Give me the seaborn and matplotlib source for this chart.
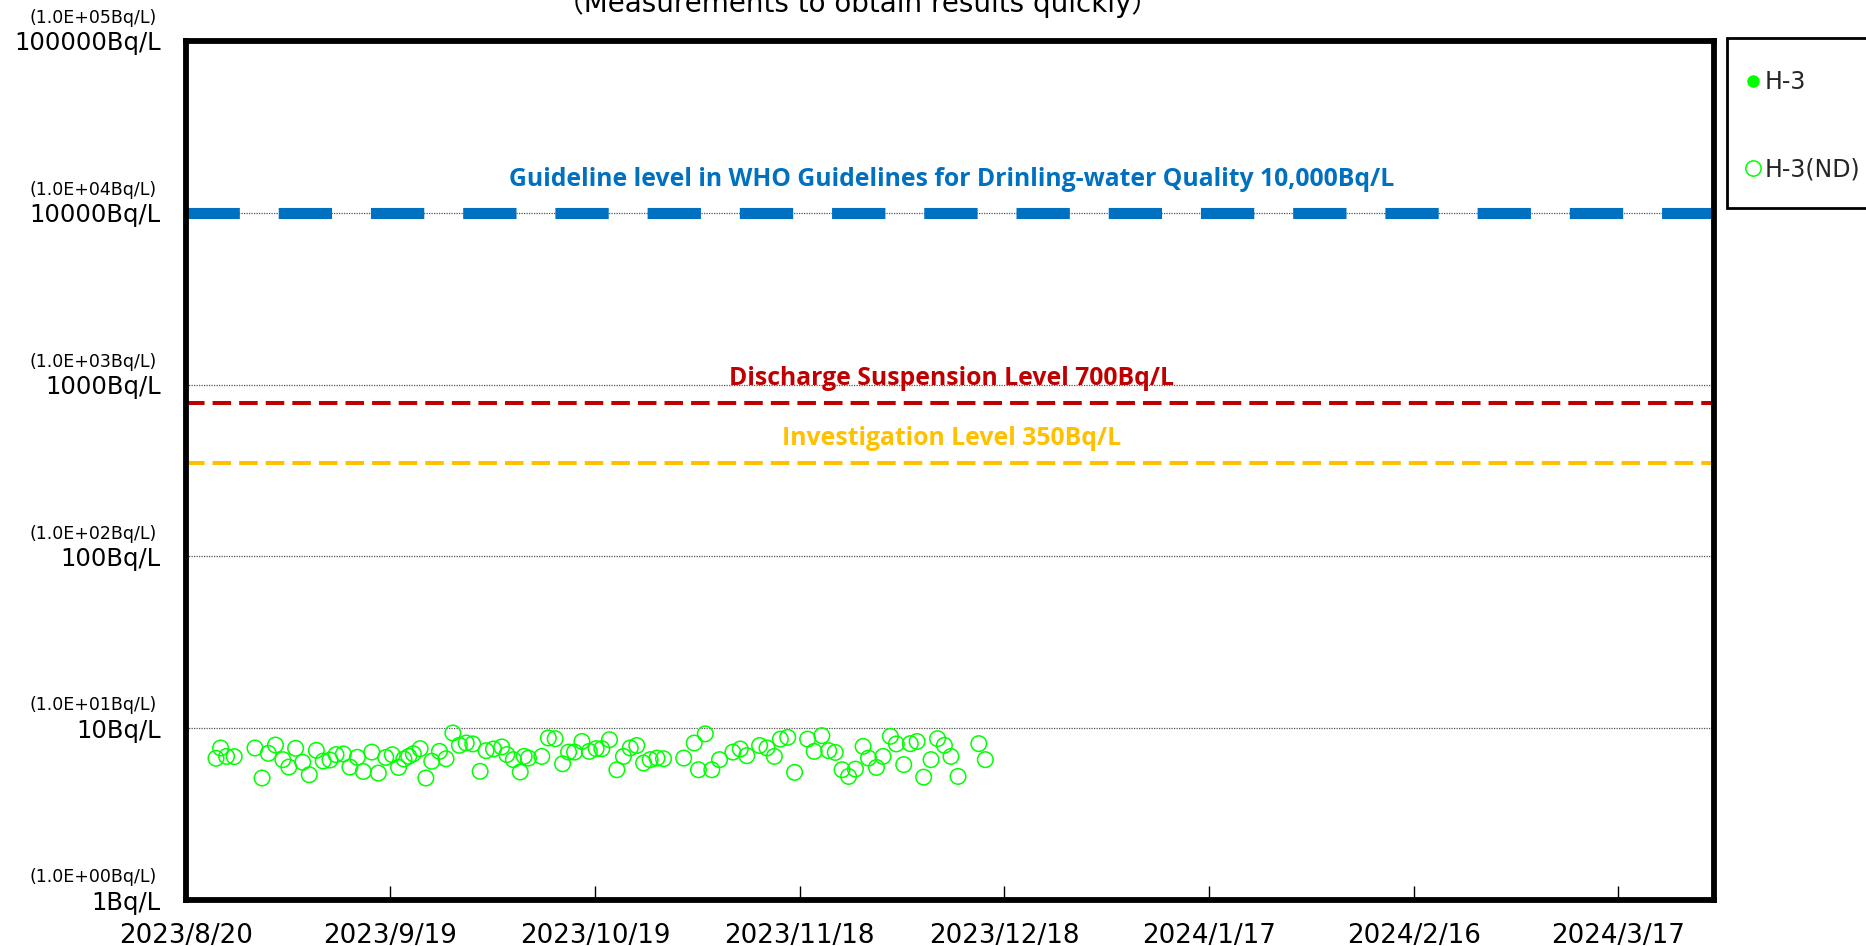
import matplotlib
matplotlib.use("Agg")
import matplotlib.pyplot as plt
from matplotlib.lines import Line2D
from matplotlib.patches import Rectangle
import numpy as np
import pandas as pd
import seaborn as sns

# ---------------- data ----------------
sample_times = [
    "2023-08-24 11:00", "2023-08-25 03:00", "2023-08-26 00:00", "2023-08-27 03:00",
    "2023-08-30 04:00", "2023-08-31 05:00", "2023-09-01 03:00", "2023-09-02 04:00",
    "2023-09-03 06:00", "2023-09-04 03:00", "2023-09-05 03:00", "2023-09-06 04:00",
    "2023-09-07 03:00", "2023-09-08 04:00", "2023-09-09 04:00", "2023-09-10 04:00",
    "2023-09-11 01:00", "2023-09-12 03:00", "2023-09-13 02:00", "2023-09-14 04:00",
    "2023-09-15 01:00", "2023-09-16 07:00", "2023-09-17 06:00", "2023-09-18 08:00",
    "2023-09-19 07:00", "2023-09-20 05:00", "2023-09-21 00:00", "2023-09-21 17:00",
    "2023-09-22 09:00", "2023-09-23 09:00", "2023-09-24 05:00", "2023-09-25 02:00",
    "2023-09-26 05:00", "2023-09-27 04:00", "2023-09-28 04:00", "2023-09-29 03:00",
    "2023-09-30 03:00", "2023-10-01 02:00", "2023-10-02 04:00", "2023-10-03 01:00",
    "2023-10-04 03:00", "2023-10-05 08:00", "2023-10-06 02:00", "2023-10-07 01:00",
    "2023-10-08 01:00", "2023-10-08 15:00", "2023-10-09 06:00", "2023-10-11 05:00",
    "2023-10-12 04:00", "2023-10-13 04:00", "2023-10-14 06:00", "2023-10-15 03:00",
    "2023-10-16 00:00", "2023-10-17 02:00", "2023-10-18 04:00", "2023-10-19 04:00",
    "2023-10-20 00:00", "2023-10-21 03:00", "2023-10-22 05:00", "2023-10-23 04:00",
    "2023-10-24 04:00", "2023-10-25 03:00", "2023-10-26 03:00", "2023-10-27 02:00",
    "2023-10-28 02:00", "2023-10-29 01:00", "2023-11-01 00:00", "2023-11-02 13:00",
    "2023-11-03 04:00", "2023-11-04 04:00", "2023-11-05 03:00", "2023-11-06 06:00",
    "2023-11-08 05:00", "2023-11-09 07:00", "2023-11-10 06:00", "2023-11-12 03:00",
    "2023-11-13 05:00", "2023-11-14 07:00", "2023-11-15 04:00", "2023-11-16 06:00",
    "2023-11-17 06:00", "2023-11-19 04:00", "2023-11-20 03:00", "2023-11-21 06:00",
    "2023-11-22 06:00", "2023-11-23 05:00", "2023-11-24 05:00", "2023-11-25 04:00",
    "2023-11-26 04:00", "2023-11-27 07:00", "2023-11-28 02:00", "2023-11-29 06:00",
    "2023-11-30 05:00", "2023-12-01 07:00", "2023-12-02 04:00", "2023-12-03 06:00",
    "2023-12-04 05:00", "2023-12-05 05:00", "2023-12-06 04:00", "2023-12-07 06:00",
    "2023-12-08 05:00", "2023-12-09 05:00", "2023-12-10 04:00", "2023-12-11 05:00",
    "2023-12-14 06:00", "2023-12-15 05:00",
]
h3_nd_values = [
    6.68, 7.67, 6.85, 6.83,
    7.67, 5.13, 7.14, 7.98,
    6.56, 5.94, 7.64, 6.33,
    5.36, 7.43, 6.44, 6.53,
    7.02, 7.08, 5.94, 6.77,
    5.60, 7.26, 5.48, 6.76,
    7.01, 5.91, 6.62, 6.86,
    7.10, 7.60, 5.13, 6.42,
    7.33, 6.64, 9.38, 7.95,
    8.20, 8.10, 5.61, 7.40,
    7.57, 7.78, 7.02, 6.56,
    5.56, 6.86, 6.70, 6.85,
    8.77, 8.69, 6.21, 7.26,
    7.26, 8.37, 7.33, 7.60,
    7.60, 8.57, 5.73, 6.85,
    7.67, 7.93, 6.27, 6.56,
    6.70, 6.64, 6.70, 8.20,
    5.73, 9.27, 5.73, 6.56,
    7.26, 7.57, 6.92, 7.93,
    7.67, 6.85, 8.64, 8.85,
    5.53, 8.64, 7.33, 9.05,
    7.40, 7.23, 5.73, 5.24,
    5.78, 7.84, 6.70, 5.91,
    6.85, 8.97, 8.10, 6.14,
    8.13, 8.37, 5.19, 6.56,
    8.69, 7.95, 6.85, 5.24,
    8.13, 6.56,
]
series_labels = ["H-3", "H-3(ND)"]

tick_dates = ["2023-08-20", "2023-09-19", "2023-10-19", "2023-11-18",
              "2023-12-18", "2024-01-17", "2024-02-16", "2024-03-17"]
tick_labels = ["2023/8/20", "2023/9/19", "2023/10/19", "2023/11/18",
               "2023/12/18", "2024/1/17", "2024/2/16", "2024/3/17"]
x_range = ["2023-08-20", "2024-03-31"]

y_ticks = [1, 10, 100, 1000, 10000, 100000]
y_labels = ["1Bq/L", "10Bq/L", "100Bq/L", "1000Bq/L", "10000Bq/L", "100000Bq/L"]
y_sub_labels = ["(1.0E+00Bq/L)", "(1.0E+01Bq/L)", "(1.0E+02Bq/L)",
                "(1.0E+03Bq/L)", "(1.0E+04Bq/L)", "(1.0E+05Bq/L)"]

# levels as drawn in the picture
ref_levels = [10000, 780, 350]
ref_texts = ["Guideline level in WHO Guidelines for Drinling-water Quality 10,000Bq/L",
             "Discharge Suspension Level 700Bq/L",
             "Investigation Level 350Bq/L"]
ref_text_y = [15600, 1085, 486]
ref_text_x = "2023-12-10 07:00"

title = "（Measurements to obtain results quickly）"

# ---------------- plot ----------------
sns.set_theme(style="white")
plt.rcParams["font.family"] = ["DejaVu Sans", "Noto Sans CJK JP"]

W, H = 1866, 946
fig = plt.figure(figsize=(W / 100, H / 100), dpi=100)
ax = fig.add_axes([185.6 / W, 1 - 900 / H, (1714 - 185.6) / W, (900 - 41) / H])

df = pd.DataFrame({"time": pd.to_datetime(sample_times), "value": h3_nd_values})

sns.scatterplot(data=df, x="time", y="value", ax=ax, marker="o", s=125,
                facecolor="none", edgecolor="#00FF00", linewidth=1.1, zorder=5,
                legend=False)

ax.set_yscale("log")
ax.set_ylim(1, 100000)
ax.set_xlim(pd.to_datetime(x_range[0]), pd.to_datetime(x_range[1]))

# grid lines
for lv in y_ticks[1:-1]:
    ax.axhline(lv, color="#555555", lw=0.9, ls=(0, (1, 1)), zorder=1)

# reference lines
ref_colors = ["#0070C0", "#C00000", "#FFC000"]
ax.axhline(ref_levels[0], color=ref_colors[0], lw=8.0, ls=(0, (4.8, 3.5)), zorder=2,
           dash_capstyle="butt")
ax.axhline(ref_levels[1], color=ref_colors[1], lw=2.9, ls=(0, (4.6, 2.0)), zorder=2,
           dash_capstyle="butt")
ax.axhline(ref_levels[2], color=ref_colors[2], lw=2.9, ls=(0, (4.6, 2.0)), zorder=2,
           dash_capstyle="butt")

bold_family = ["Open Sans", "DejaVu Sans"]
mid_x = pd.to_datetime(ref_text_x)
for txt, yy, col in zip(ref_texts, ref_text_y, ref_colors):
    ax.text(mid_x, yy, txt, color=col, fontsize=17.8, fontweight="bold",
            ha="center", va="center", family=bold_family, zorder=6)

# axes styling
for sp in ax.spines.values():
    sp.set_color("black")
    sp.set_linewidth(4.2)

ax.set_xticks(pd.to_datetime(tick_dates))
ax.set_xticklabels(tick_labels)
ax.set_yticks(y_ticks)
ax.set_yticklabels(y_labels)
ax.yaxis.set_minor_locator(matplotlib.ticker.NullLocator())
ax.xaxis.set_minor_locator(matplotlib.ticker.NullLocator())
ax.tick_params(axis="x", direction="in", length=10, width=1, color="black",
               labelsize=18.8, pad=16.5, labelcolor="black", bottom=True)
ax.tick_params(axis="y", length=0, labelsize=17.5, pad=18, labelcolor="black", left=True)
ax.set_xlabel("")
ax.set_ylabel("")
ax.grid(False)

for yv, sub in zip(y_ticks, y_sub_labels):
    ax.annotate(sub, xy=(0, yv), xycoords=("axes fraction", "data"),
                xytext=(-21, 10), textcoords="offset points",
                ha="right", va="bottom", fontsize=12.5, color="black")

fig.text(858 / W, 1 - 12 / H, title, ha="center", va="baseline", fontsize=20,
         color="black")

# legend: frame drawn as a box, entries via legend
fig.patches.append(Rectangle((1727 / W, 1 - 208 / H), 200 / W, 170 / H,
                             transform=fig.transFigure, facecolor="white",
                             edgecolor="black", linewidth=2, zorder=0))
handles = [
    Line2D([], [], ls="none", marker="o", markersize=8, markerfacecolor="#00FF00",
           markeredgecolor="#00FF00"),
    Line2D([], [], ls="none", marker="o", markersize=11, markerfacecolor="none",
           markeredgecolor="#00FF00", markeredgewidth=1.1),
]
leg = fig.legend(handles, series_labels, loc="upper left",
                 bbox_to_anchor=(1746 / W, 1 - 70 / H), frameon=False,
                 fontsize=17, handlelength=0.6, handletextpad=0.2,
                 labelspacing=2.7, borderpad=0, borderaxespad=0)

fig.savefig("out.png", dpi=100)
